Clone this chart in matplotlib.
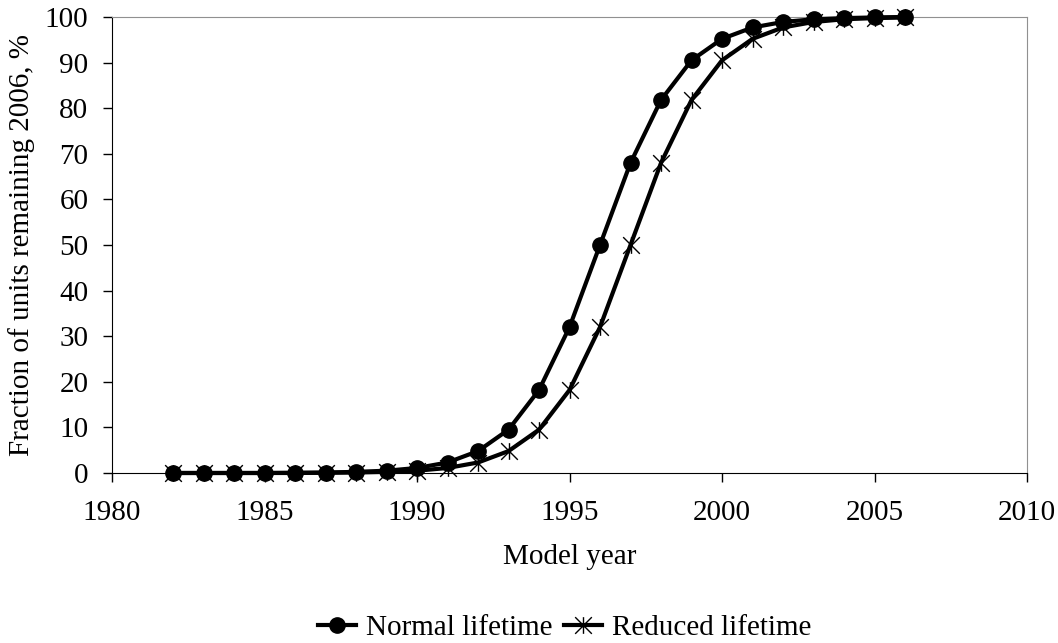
import matplotlib
matplotlib.use('Agg')
import matplotlib.pyplot as plt
from matplotlib.path import Path

plt.rcParams['font.family'] = ['Liberation Serif', 'DejaVu Serif']

# data
years = list(range(1982, 2007))
normal = [0.0, 0.0, 0.0, 0.0, 0.05, 0.1, 0.25, 0.5, 1.1, 2.3, 4.8, 9.5, 18.2,
          32.0, 50.0, 68.0, 81.8, 90.5, 95.2, 97.7, 98.9, 99.5, 99.75, 99.9, 100.0]
reduced = [0.0, 0.0, 0.0, 0.0, 0.0, 0.05, 0.1, 0.25, 0.5, 1.1, 2.3, 4.8, 9.5,
           18.2, 32.0, 50.0, 68.0, 81.8, 90.5, 95.2, 97.7, 98.9, 99.5, 99.75, 99.9]

# asterisk-like marker: x plus vertical bar
star = Path([(-1, -1), (1, 1), (-1, 1), (1, -1), (0, -1), (0, 1)],
            [Path.MOVETO, Path.LINETO, Path.MOVETO, Path.LINETO, Path.MOVETO, Path.LINETO])

fs = 21

fig = plt.figure(figsize=(10.58, 6.43), dpi=100)
ax = fig.add_axes([0.1059, 0.2644, 0.8648, 0.7092])

ax.plot(years, reduced, color='black', linewidth=3, marker=star, markersize=12,
        markeredgewidth=1.0, label='Reduced lifetime', zorder=2, clip_on=False)
ax.plot(years, normal, color='black', linewidth=3, marker='o', markersize=11,
        label='Normal lifetime', zorder=3, clip_on=False)

ax.set_xlim(1980, 2010)
ax.set_ylim(0, 100)
ax.set_xticks(range(1980, 2011, 5))
ax.set_yticks(range(0, 101, 10))
ax.tick_params(labelsize=fs, direction='out', length=6.5, width=1)
ax.tick_params(axis='x', pad=13)
ax.tick_params(axis='y', pad=10.5)

ax.spines['top'].set_color('#909090')
ax.spines['right'].set_color('#909090')

ax.set_xlabel('Model year', fontsize=fs, labelpad=13)
ax.set_ylabel('Fraction of units remaining 2006, %', fontsize=fs, labelpad=7)

h, l = ax.get_legend_handles_labels()
fig.legend(h[::-1], l[::-1], loc='center', bbox_to_anchor=(0.534, 0.023), ncol=2,
           frameon=False, fontsize=fs, handlelength=1.3, handletextpad=0.35,
           columnspacing=0.38, borderpad=0, borderaxespad=0)

fig.savefig('out.png', dpi=100)
